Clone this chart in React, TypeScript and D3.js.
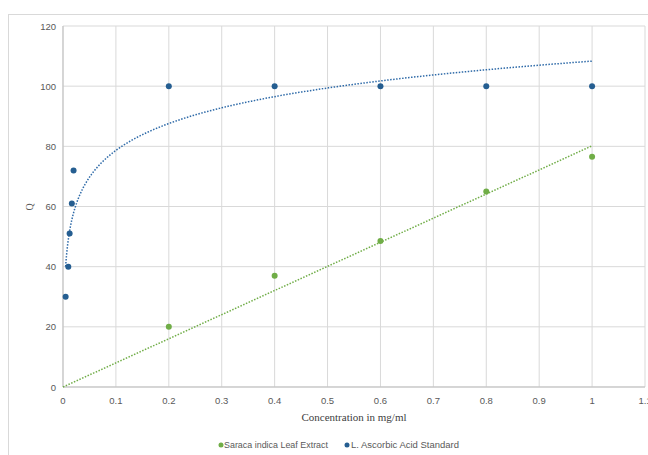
import React from "react";
import * as d3 from "d3";

// Saraca indica leaf extract
const extractConc = [0.2, 0.4, 0.6, 0.8, 1];
const extractQ = [20, 37, 48.5, 65, 76.5];

// L. ascorbic acid standard
const ascorbicConc = [0.005, 0.01, 0.0125, 0.0167, 0.02, 0.2, 0.4, 0.6, 0.8, 1];
const ascorbicQ = [30, 40, 51, 61, 72, 100, 100, 100, 100, 100];

const xTicks = [0, 0.1, 0.2, 0.3, 0.4, 0.5, 0.6, 0.7, 0.8, 0.9, 1, 1.1];
const yTicks = [0, 20, 40, 60, 80, 100, 120];

const GREEN = "#70ad47";
const BLUE = "#255e91";
const GRID = "#d9d9d9";
const TEXT = "#595959";

// linear trend through origin
const fitOrigin = (xs: number[], ys: number[]) => {
  const sxy = d3.sum(xs, (x, i) => x * ys[i]);
  const sxx = d3.sum(xs, (x) => x * x);
  return sxy / sxx;
};

// logarithmic trend y = a + b ln x
const fitLog = (xs: number[], ys: number[]) => {
  const lx = xs.map(Math.log);
  const mx = d3.mean(lx)!;
  const my = d3.mean(ys)!;
  const sxy = d3.sum(lx, (v, i) => (v - mx) * (ys[i] - my));
  const sxx = d3.sum(lx, (v) => (v - mx) ** 2);
  const b = sxy / sxx;
  return { a: my - b * mx, b };
};

export default function App() {
  const width = 648;
  const height = 455;
  const x = d3.scaleLinear().domain([0, 1.1]).range([63, 645]);
  const y = d3.scaleLinear().domain([0, 120]).range([387, 26]);

  const slope = fitOrigin(extractConc, extractQ);
  const { a, b } = fitLog(ascorbicConc, ascorbicQ);

  const line = d3
    .line<[number, number]>()
    .x((d) => x(d[0]))
    .y((d) => y(d[1]));

  const linPts: [number, number][] = [
    [0, 0],
    [1, slope],
  ];
  const lo = d3.min(ascorbicConc)!;
  const hi = d3.max(ascorbicConc)!;
  const logPts: [number, number][] = d3
    .range(0, 201)
    .map((i) => {
      const t = Math.exp(Math.log(lo) + (i / 200) * (Math.log(hi) - Math.log(lo)));
      return [t, a + b * Math.log(t)];
    });

  const tickFont = "'Liberation Sans', Arial, sans-serif";

  return (
    <svg
      width={width}
      height={height}
      style={{ position: "absolute", left: 0, top: 0, background: "#fff" }}
    >
      <rect x={8.5} y={14.5} width={660} height={460} fill="#fff" stroke={GRID} />

      {xTicks.map((t) => (
        <line key={"gx" + t} x1={x(t)} x2={x(t)} y1={y(120)} y2={y(0)} stroke={GRID} />
      ))}
      {yTicks.map((t) => (
        <line key={"gy" + t} x1={x(0)} x2={x(1.1)} y1={y(t)} y2={y(t)} stroke={GRID} />
      ))}
      <line x1={x(0)} x2={x(1.1)} y1={y(0)} y2={y(0)} stroke="#bfbfbf" />
      <line x1={x(0)} x2={x(0)} y1={y(0)} y2={y(120)} stroke="#bfbfbf" />

      {yTicks.map((t) => (
        <text
          key={"ty" + t}
          x={56}
          y={y(t) + 3.5}
          textAnchor="end"
          fontSize={9.5}
          fontFamily={tickFont}
          fill={TEXT}
        >
          {t}
        </text>
      ))}
      {xTicks.map((t) => (
        <text
          key={"tx" + t}
          x={x(t)}
          y={404}
          textAnchor="middle"
          fontSize={9.5}
          fontFamily={tickFont}
          fill={TEXT}
        >
          {t}
        </text>
      ))}

      <text
        transform={`translate(33,207) rotate(-90)`}
        textAnchor="middle"
        fontSize={10}
        fontFamily="'Liberation Serif', serif"
        fill={TEXT}
      >
        Q
      </text>
      <text
        x={354}
        y={421}
        textAnchor="middle"
        fontSize={11}
        fontFamily="'Liberation Serif', serif"
        fill="#404040"
      >
        Concentration in mg/ml
      </text>

      <path d={line(linPts)!} fill="none" stroke={GREEN} strokeWidth={1.5} strokeDasharray="1.5,1.5" />
      <path d={line(logPts)!} fill="none" stroke="#2e6aa8" strokeWidth={1.5} strokeDasharray="1.5,1.5" />

      {extractConc.map((c, i) => (
        <circle key={"e" + i} cx={x(c)} cy={y(extractQ[i])} r={3} fill={GREEN} />
      ))}
      {ascorbicConc.map((c, i) => (
        <circle key={"s" + i} cx={x(c)} cy={y(ascorbicQ[i])} r={3} fill={BLUE} />
      ))}

      <g fontSize={8.5} fontFamily={tickFont} fill={TEXT}>
        <circle cx={221} cy={445} r={2.5} fill={GREEN} />
        <text x={224} y={448} textLength={104} lengthAdjust="spacingAndGlyphs">
          Saraca indica Leaf Extract
        </text>
        <circle cx={347} cy={445} r={2.5} fill={BLUE} />
        <text x={351} y={448} textLength={108} lengthAdjust="spacingAndGlyphs">
          L. Ascorbic Acid Standard
        </text>
      </g>
    </svg>
  );
}
